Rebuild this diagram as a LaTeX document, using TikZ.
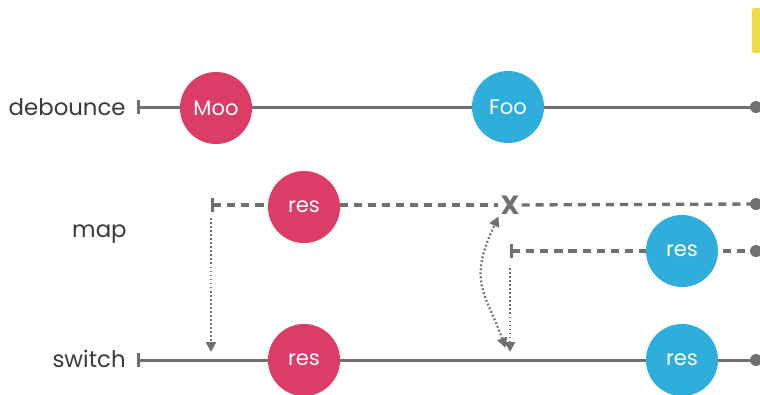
\documentclass[tikz,border=0pt]{standalone}
\usepackage{fontspec}
\setmainfont{Poppins}
\usetikzlibrary{arrows.meta}
\definecolor{steel}{HTML}{707070}
\definecolor{crimson}{HTML}{DC3C66}
\definecolor{sky}{HTML}{2FAEDC}
\definecolor{ink}{HTML}{3A3A3A}
\definecolor{lemon}{HTML}{F0DC4A}

\begin{document}
\begin{tikzpicture}[x=.2mm,y=-.2mm,line join=round,
  rail/.style={steel,line width=1.7pt},
  dashrail/.style={steel,line width=1.9pt,dash pattern=on 4.6pt off 3.4pt},
  start/.style={{Bar[width=8.5pt,line width=1.7pt]}-},
  marble/.style={circle,minimum size=14.4mm,inner sep=0,text=white,font=\fontsize{12}{14}\selectfont},
  hot/.style={marble,fill=crimson},
  cold/.style={marble,fill=sky},
  tip/.style={circle,fill=steel,inner sep=0,minimum size=2.4mm},
  lane/.style={anchor=base east,inner sep=0,text=ink,font=\fontsize{13}{15}\selectfont},
  hop/.style={steel,line width=1.3pt,dash pattern=on 1pt off 1.3pt,-{Triangle[length=2mm,width=2mm]}}]
\useasboundingbox (0,0) rectangle (760,394);
\fill[lemon,rounded corners=.4mm] (752,8) rectangle (762,53);
% lane names
\node[lane] (ldeb) at (126,115) {debounce};
\node[lane] (lmap) at (127,237) {map};
\node[lane] (lsw) at (126,367) {switch};
% line ends
\coordinate (d0) at (137,107); \node[tip] (d1) at (756,107) {};
\coordinate (m0) at (211,205); \node[tip] (m1) at (756,204) {};
\coordinate (n0) at (510,251); \node[tip] (n1) at (756,251) {};
\coordinate (s0) at (137,360); \node[tip] (s1) at (756,360) {};
\coordinate (sa) at (211,360); \coordinate (sb) at (510,360);
% streams
\draw[rail,start] (d0) -- (d1.center);
\node[text=steel,font=\fontsize{15}{15}\bfseries\selectfont,inner sep=1pt] (cut) at (510,205) {X};
\draw[dashrail,start] (m0) -- (cut);
\draw[dashrail] (cut) -- (m1.center);
\draw[dashrail,start] (n0) -- (n1.center);
\draw[rail,start] (s0) -- (s1.center);
% values
\node[hot] (moo) at (216,108) {Moo};
\node[cold] (foo) at (508,107) {Foo};
\node[hot] (mres) at (304,207) {res};
\node[cold] (nres) at (682,251) {res};
\node[hot] (sres1) at (304,360) {res};
\node[cold] (sres2) at (682,360) {res};
% switching
\draw[hop,shorten <=2.6mm,shorten >=1.6mm] (m0) -- (sa);
\draw[hop,shorten <=3.4mm,shorten >=1.6mm] (n0) -- (sb);
\draw[hop,{Triangle[length=2mm,width=2mm]}-{Triangle[length=2mm,width=2mm]},shorten <=2.6mm] (sb) to[out=110,in=245,looseness=1.3] (cut.south west);
\end{tikzpicture}
\end{document}
